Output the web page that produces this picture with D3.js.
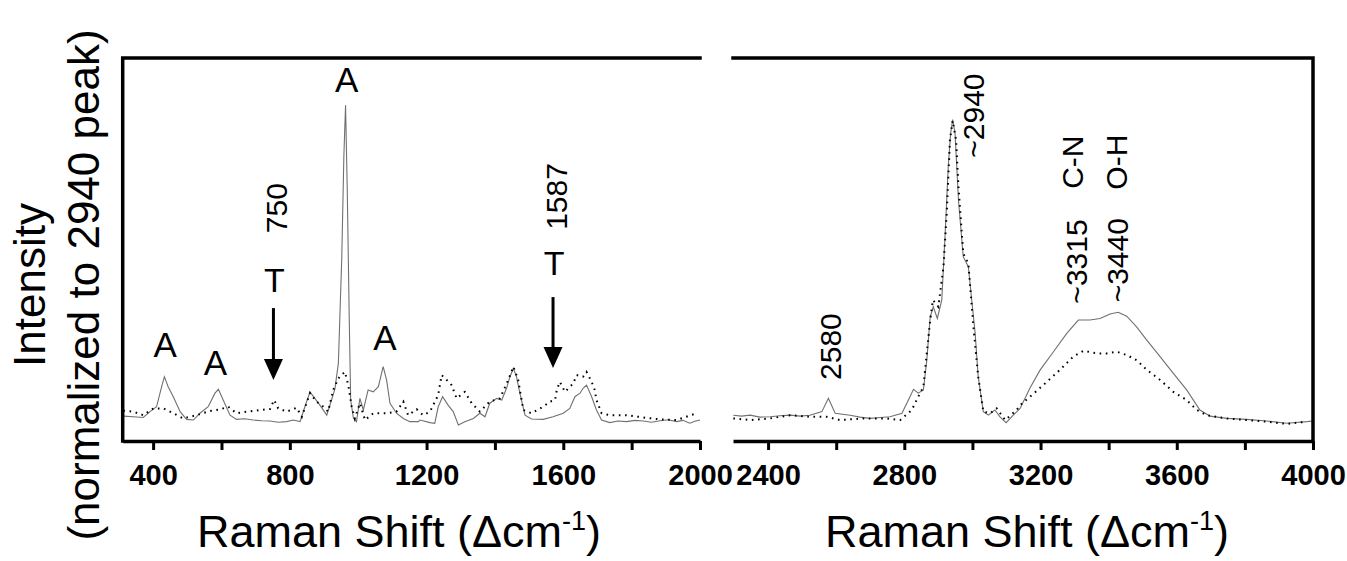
<!DOCTYPE html>
<html><head><meta charset="utf-8">
<script src="https://cdn.jsdelivr.net/npm/d3@7/dist/d3.min.js"></script>
<style>
body{margin:0;background:#fff}
svg{display:block}
text{font-family:"Liberation Sans",Arial,Helvetica,sans-serif;fill:#000}
</style>
</head><body>
<svg id="chart" width="1347" height="561"></svg>
<script>
// ---------- data (wavenumber, normalized intensity) ----------
const leftSolid = [[313,0.083],[342,0.081],[371,0.079],[391,0.097],[410,0.112],[425,0.174],[433,0.205],[444,0.174],[459,0.143],[479,0.097],[498,0.073],[518,0.071],[537,0.092],[561,0.112],[581,0.154],[591,0.166],[605,0.133],[625,0.086],[644,0.073],[668,0.075],[693,0.071],[718,0.069],[742,0.068],[766,0.064],[791,0.066],[810,0.071],[830,0.066],[844,0.112],[859,0.158],[873,0.138],[888,0.117],[908,0.086],[922,0.133],[932,0.168],[942,0.247],[952,0.576],[958,0.884],[963,1.044],[968,0.782],[974,0.371],[978,0.133],[986,0.077],[995,0.066],[1005,0.138],[1015,0.102],[1029,0.164],[1044,0.158],[1059,0.174],[1073,0.236],[1083,0.195],[1093,0.123],[1112,0.092],[1132,0.076],[1151,0.066],[1176,0.066],[1181,0.071],[1210,0.063],[1224,0.061],[1234,0.112],[1247,0.143],[1263,0.117],[1278,0.097],[1293,0.056],[1312,0.066],[1337,0.076],[1356,0.092],[1371,0.081],[1385,0.123],[1405,0.138],[1420,0.133],[1434,0.169],[1444,0.205],[1454,0.231],[1463,0.205],[1473,0.154],[1488,0.086],[1507,0.074],[1541,0.073],[1570,0.081],[1600,0.092],[1619,0.107],[1634,0.143],[1649,0.154],[1658,0.169],[1668,0.179],[1683,0.143],[1697,0.102],[1712,0.071],[1736,0.063],[1760,0.068],[1785,0.066],[1810,0.070],[1834,0.068],[1858,0.064],[1883,0.069],[1907,0.072],[1931,0.066],[1950,0.070],[1970,0.061],[1985,0.067],[2000,0.071]];
const leftDotted = [[313,0.100],[342,0.097],[371,0.086],[401,0.107],[430,0.107],[459,0.092],[488,0.076],[527,0.086],[566,0.099],[596,0.104],[620,0.112],[644,0.092],[674,0.097],[713,0.102],[742,0.105],[754,0.133],[766,0.107],[791,0.097],[820,0.109],[835,0.081],[859,0.154],[878,0.128],[898,0.112],[912,0.097],[927,0.164],[942,0.200],[961,0.220],[971,0.179],[981,0.112],[990,0.076],[1005,0.123],[1020,0.071],[1044,0.092],[1083,0.092],[1112,0.097],[1132,0.128],[1146,0.086],[1171,0.104],[1190,0.086],[1210,0.097],[1234,0.148],[1244,0.210],[1259,0.195],[1273,0.179],[1288,0.138],[1312,0.158],[1332,0.123],[1356,0.097],[1385,0.128],[1415,0.138],[1439,0.195],[1454,0.236],[1468,0.195],[1483,0.102],[1507,0.092],[1541,0.112],[1561,0.128],[1576,0.133],[1581,0.164],[1590,0.189],[1605,0.158],[1629,0.184],[1639,0.210],[1658,0.205],[1668,0.220],[1683,0.189],[1692,0.164],[1697,0.133],[1712,0.092],[1736,0.086],[1785,0.086],[1834,0.079],[1883,0.073],[1931,0.071],[1990,0.092]];
const rightSolid = [[2298,0.086],[2322,0.083],[2347,0.086],[2376,0.080],[2406,0.081],[2435,0.084],[2465,0.086],[2494,0.083],[2523,0.086],[2558,0.097],[2577,0.138],[2597,0.092],[2641,0.086],[2670,0.080],[2699,0.076],[2730,0.079],[2758,0.081],[2793,0.092],[2812,0.133],[2827,0.166],[2841,0.154],[2856,0.164],[2866,0.256],[2876,0.390],[2885,0.421],[2897,0.385],[2910,0.442],[2920,0.648],[2929,0.854],[2936,0.957],[2942,1.000],[2949,0.957],[2959,0.751],[2973,0.576],[2988,0.545],[2998,0.442],[3008,0.339],[3017,0.205],[3032,0.097],[3047,0.086],[3066,0.102],[3081,0.081],[3099,0.063],[3120,0.086],[3140,0.107],[3169,0.170],[3199,0.226],[3238,0.282],[3277,0.339],[3311,0.380],[3345,0.380],[3375,0.385],[3404,0.399],[3428,0.404],[3453,0.392],[3482,0.359],[3512,0.318],[3551,0.267],[3590,0.215],[3629,0.164],[3668,0.102],[3698,0.083],[3747,0.076],[3805,0.073],[3864,0.068],[3923,0.061],[3982,0.066],[4000,0.068]];
const rightDotted = [[2298,0.076],[2347,0.071],[2406,0.076],[2465,0.086],[2523,0.081],[2572,0.081],[2611,0.071],[2680,0.076],[2749,0.076],[2788,0.071],[2822,0.102],[2841,0.143],[2856,0.174],[2876,0.380],[2884,0.442],[2900,0.421],[2915,0.545],[2925,0.720],[2934,0.936],[2942,0.996],[2952,0.936],[2959,0.792],[2973,0.586],[2988,0.555],[3003,0.359],[3017,0.205],[3032,0.097],[3052,0.092],[3071,0.107],[3096,0.071],[3130,0.102],[3140,0.117],[3169,0.143],[3208,0.179],[3257,0.226],[3296,0.267],[3326,0.285],[3365,0.277],[3394,0.277],[3424,0.282],[3453,0.272],[3482,0.256],[3512,0.226],[3551,0.195],[3590,0.158],[3629,0.133],[3659,0.102],[3688,0.086],[3747,0.076],[3805,0.071],[3864,0.066],[3923,0.059],[3982,0.066]];

const leftTickValues = [400,600,800,1000,1200,1400,1600,1800,2000];
const leftTickLabels = [400,800,1200,1600,2000];
const rightTickValues = [2400,2600,2800,3000,3200,3400,3600,3800,4000];
const rightTickLabels = [2400,2800,3200,3600,4000];

const xTitle = "Raman Shift (\u0394cm";
const yTitleLines = ["Intensity","(normalized to 2940 peak)"];

// annotations: [text, wavenumber, intensity]
const peakLetters = [["A",435,0.266],["A",582,0.210],["A",966,1.084],["A",1078,0.287]];
const arrowMarks = [
  {label:"T", num:"750", wn:752, tY:0.466, top:0.417, tip:0.195, numY:0.726},
  {label:"T", num:"1587", wn:1570, tY:0.519, top:0.451, tip:0.232, numY:0.762}
];
const rightNotes = [["2580",2584,0.298],["~2940",3003,1.012],["~3315",3307,0.561],["C-N",3293,0.868],["~3440",3425,0.565],["O-H",3422,0.868]];

// ---------- drawing ----------
const svg = d3.select("#chart");
const yTop = 58, yBot = 441;
const xL = d3.scaleLinear().domain([311,2000]).range([122.7,700]);
const xR = d3.scaleLinear().domain([2297,4000]).range([733,1313]);
const y = d3.scaleLinear().domain([0,1.19]).range([443,yTop]);

const frameW = 3.5;

function panel(x, ticks, labels, solid, dotted, frameSide, titleX){
  const g = svg.append("g");
  const line = d3.line().x(d=>x(d[0])).y(d=>y(d[1]));
  g.append("path").datum(solid).attr("d",line)
    .attr("fill","none").attr("stroke","#707070").attr("stroke-width",1.1);
  g.append("path").datum(dotted).attr("d",line)
    .attr("fill","none").attr("stroke","#000").attr("stroke-width",2)
    .attr("stroke-dasharray","1.6 4.6");
  const axis = d3.axisBottom(x).tickValues(ticks).tickSize(9).tickSizeOuter(0).tickPadding(14)
    .tickFormat(d => labels.includes(d) ? d : "");
  const ag = g.append("g").attr("transform",`translate(0,${yBot})`).call(axis);
  ag.select(".domain").attr("stroke","#000").attr("stroke-width",frameW);
  ag.selectAll(".tick line").attr("stroke","#000").attr("stroke-width",3);
  ag.selectAll(".tick text").attr("font-size",29).attr("font-weight","bold")
    .attr("font-family","Liberation Sans, Arial, sans-serif").attr("fill","#000");
  const [r0,r1] = x.range();
  const p = frameSide==="left"
    ? `M${r1},${yTop}H${r0}V${yBot}`
    : `M${r0},${yTop}H${r1}V${yBot}`;
  g.append("path").attr("d",p).attr("fill","none").attr("stroke","#000")
    .attr("stroke-width",frameW).attr("stroke-linecap","square");
  // x title
  const t = g.append("text").attr("x",titleX).attr("y",547).attr("text-anchor","middle")
    .attr("font-size",45);
  t.append("tspan").text(xTitle);
  t.append("tspan").attr("dy",-17).attr("font-size",27).text("-1");
  t.append("tspan").attr("dy",17).text(")");
}
panel(xL, leftTickValues, leftTickLabels, leftSolid, leftDotted, "left", 399);
panel(xR, rightTickValues, rightTickLabels, rightSolid, rightDotted, "right", 1027);

// y title
yTitleLines.forEach((s,i)=>{
  const cx = [30,84][i], cy = 285;
  svg.append("text").attr("transform",`translate(${cx},${cy}) rotate(-90)`)
    .attr("text-anchor","middle").attr("dy","0.35em").attr("font-size",44).text(s);
});

// annotations
peakLetters.forEach(([s,wn,v])=>{
  svg.append("text").attr("x",xL(wn)).attr("y",y(v)).attr("text-anchor","middle")
    .attr("font-size",35).text(s);
});
arrowMarks.forEach(m=>{
  const ax = xL(m.wn);
  svg.append("text").attr("x",ax+1).attr("y",y(m.tY)).attr("text-anchor","middle")
    .attr("font-size",34).text(m.label);
  svg.append("line").attr("x1",ax).attr("x2",ax).attr("y1",y(m.top)).attr("y2",y(m.tip)-12)
    .attr("stroke","#000").attr("stroke-width",3);
  const tipY = y(m.tip);
  svg.append("path").attr("d",`M${ax-9.5},${tipY-21}L${ax+9.5},${tipY-21}L${ax},${tipY}Z`).attr("fill","#000");
  svg.append("text").attr("transform",`translate(${ax+3},${y(m.numY)}) rotate(-90)`)
    .attr("text-anchor","middle").attr("dy","0.35em").attr("font-size",30).text(m.num);
});
rightNotes.forEach(([s,wn,v])=>{
  svg.append("text").attr("transform",`translate(${xR(wn)},${y(v)}) rotate(-90)`)
    .attr("text-anchor","middle").attr("dy","0.35em").attr("font-size",30).text(s);
});
</script>
</body></html>
